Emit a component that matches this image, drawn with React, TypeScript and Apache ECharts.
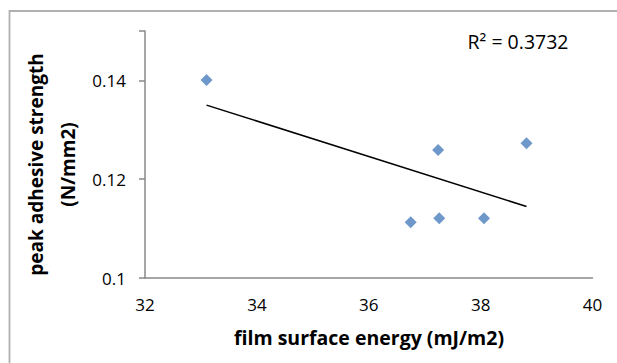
import React, { useEffect, useRef } from "react";
import * as echarts from "echarts";

const surfaceEnergy = [33.1, 36.75, 37.24, 37.26, 38.06, 38.82];
const adhesiveStrength = [0.1401, 0.1113, 0.1259, 0.1121, 0.1121, 0.1273];
const xTicks = [32, 34, 36, 38, 40];
const yTicks = [0.1, 0.12, 0.14];
const r2Label = "R² = 0.3732";
const xTitle = "film surface energy (mJ/m2)";
const yTitleLines = ["peak adhesive strength", "(N/mm2)"];

function regression(xs: number[], ys: number[]) {
  const n = xs.length;
  const mx = xs.reduce((a, b) => a + b, 0) / n;
  const my = ys.reduce((a, b) => a + b, 0) / n;
  let sxy = 0;
  let sxx = 0;
  for (let i = 0; i < n; i++) {
    sxy += (xs[i] - mx) * (ys[i] - my);
    sxx += (xs[i] - mx) * (xs[i] - mx);
  }
  const slope = sxy / sxx;
  return { slope, intercept: my - slope * mx };
}

const FONT = "'Open Sans', Lato, sans-serif";

export default function App() {
  const ref = useRef<HTMLDivElement>(null);
  useEffect(() => {
    if (!ref.current) return;
    const chart = echarts.init(ref.current, null, { renderer: "svg" });
    const { slope, intercept } = regression(surfaceEnergy, adhesiveStrength);
    const xmin = Math.min(...surfaceEnergy);
    const xmax = Math.max(...surfaceEnergy);
    const trend = [
      [xmin, intercept + slope * xmin],
      [xmax, intercept + slope * xmax],
    ];
    chart.setOption({
      animation: false,
      backgroundColor: "#ffffff",
      grid: { left: 145, right: 24.5, top: 31, bottom: 85 },
      xAxis: {
        type: "value",
        min: xTicks[0],
        max: xTicks[xTicks.length - 1],
        interval: 2,
        axisLine: { show: true, lineStyle: { color: "#898989", width: 1.5 } },
        axisTick: { show: false },
        splitLine: { show: false },
        axisLabel: { color: "#000", fontSize: 17, fontFamily: FONT, margin: 18 },
      },
      yAxis: {
        type: "value",
        min: 0.1,
        max: 0.15,
        interval: 0.02,
        axisLine: { show: true, lineStyle: { color: "#898989", width: 1.5 } },
        axisTick: { show: true, length: 6, lineStyle: { color: "#898989", width: 1.5 } },
        splitLine: { show: false },
        axisLabel: {
          color: "#000",
          fontSize: 17,
          fontFamily: FONT,
          margin: 19,
          formatter: (v: number) => (yTicks.some((t) => Math.abs(t - v) < 1e-9) ? String(+v.toFixed(2)) : ""),
        },
      },
      graphic: [
        {
          type: "polyline",
          shape: { points: [[9.5, 363], [9.5, 11], [617, 11]] },
          style: { stroke: "#b0b0b0", lineWidth: 1.8, fill: null },
          silent: true,
        },
        {
          type: "text",
          x: 369,
          y: 337,
          style: {
            text: xTitle,
            fontSize: 19.5,
            fontWeight: "bold",
            fontFamily: FONT,
            fill: "#000",
            align: "center",
            verticalAlign: "middle",
          },
        },
        {
          type: "text",
          x: 36,
          y: 164.5,
          rotation: Math.PI / 2,
          style: {
            text: yTitleLines[0],
            fontSize: 19,
            fontWeight: "bold",
            fontFamily: FONT,
            fill: "#000",
            align: "center",
            verticalAlign: "middle",
          },
        },
        {
          type: "text",
          x: 68,
          y: 164.5,
          rotation: Math.PI / 2,
          style: {
            text: yTitleLines[1],
            fontSize: 19,
            fontWeight: "bold",
            fontFamily: FONT,
            fill: "#000",
            align: "center",
            verticalAlign: "middle",
          },
        },
        {
          type: "text",
          x: 518,
          y: 41,
          style: {
            text: r2Label,
            fontSize: 19.5,
            fontFamily: FONT,
            fill: "#000",
            align: "center",
            verticalAlign: "middle",
          },
        },
      ],
      series: [
        {
          type: "line",
          data: trend,
          symbol: "none",
          lineStyle: { color: "#000", width: 1.5 },
          silent: true,
        },
        {
          type: "scatter",
          data: surfaceEnergy.map((x, i) => [x, adhesiveStrength[i]]),
          symbol: "diamond",
          symbolSize: 12,
          itemStyle: { color: "#4a7ebb" },
        },
      ],
    });
    return () => chart.dispose();
  }, []);
  return <div ref={ref} style={{ width: 617, height: 363, position: "absolute", left: 0, top: 0 }} />;
}
